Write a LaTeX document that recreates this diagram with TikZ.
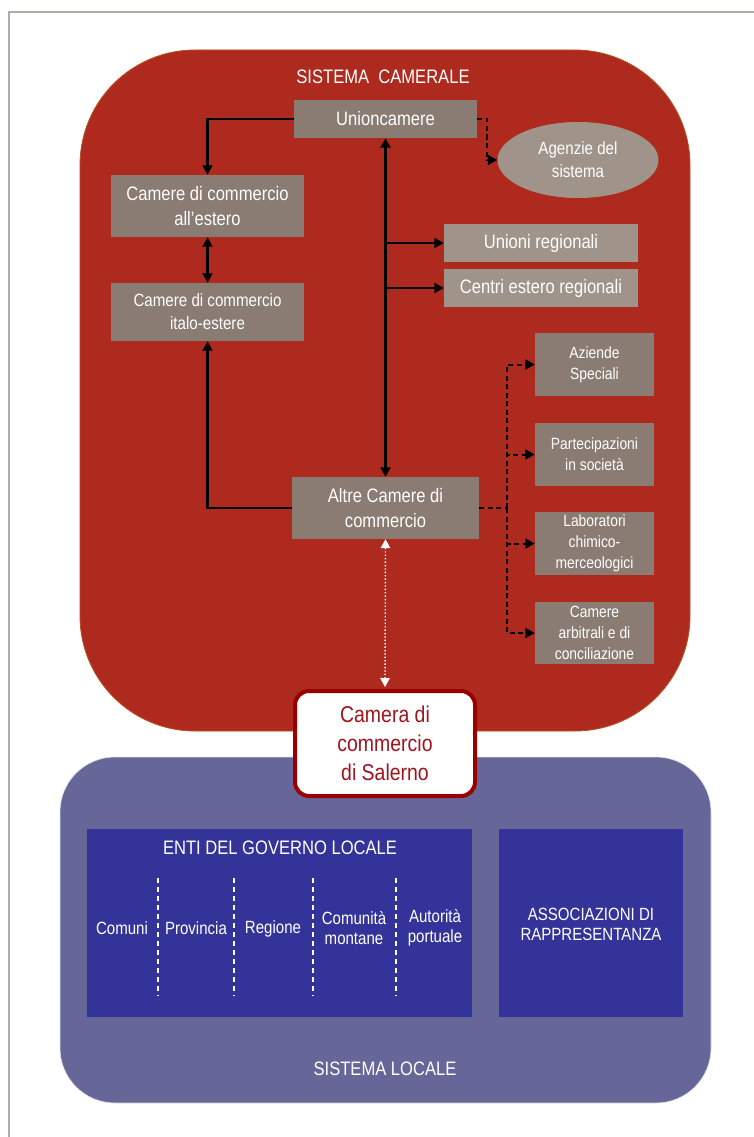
\documentclass[tikz,border=0pt]{standalone}
\usepackage{fontspec}
\setmainfont{Liberation Sans}[FakeStretch=0.85]
\usetikzlibrary{arrows.meta,shapes.geometric,calc}
\definecolor{camred}{HTML}{AF2A1E}
\definecolor{camedge}{HTML}{B8501E}
\definecolor{boxgray}{HTML}{8A7B73}
\definecolor{lightgray}{HTML}{A09389}
\definecolor{outblue}{HTML}{666699}
\definecolor{inblue}{HTML}{333399}
\definecolor{salred}{HTML}{990000}
\definecolor{saltext}{HTML}{A0141E}
\definecolor{framegray}{HTML}{B4ABA4}
\newcommand\fszA{\fontsize{19.5}{25}\selectfont}
\newcommand\fszB{\fontsize{17.8}{23}\selectfont}
\newcommand\fszC{\fontsize{16.3}{21}\selectfont}
\newcommand\fszD{\fontsize{17.7}{20}\selectfont}
\newcommand\fszE{\fontsize{22.9}{29}\selectfont}
\begin{document}
\begin{tikzpicture}[x=1pt,y=-1pt,
  gbox/.style={fill=boxgray, text=white, inner sep=0pt, align=center},
  lbox/.style={fill=lightgray, text=white, inner sep=0pt, align=center},
  wtext/.style={text=white, inner sep=0pt, align=center},
  conn/.style={black, line width=2.1pt},
  mainconn/.style={black, line width=2.8pt},
  dconn/.style={black, line width=2pt, dash pattern=on 5pt off 3.5pt},
  tip/.style={-{Triangle[length=9.5pt,width=10pt]}},
  dtip/.style={{Triangle[length=9.5pt,width=10pt]}-{Triangle[length=9.5pt,width=10pt]}},
  sepline/.style={white, line width=1.3pt, dash pattern=on 5pt off 4pt}
]
\useasboundingbox (0,0) rectangle (754,1137);
\fill[white] (0,0) rectangle (754,1137);
\draw[framegray, line width=1.5pt] (9,1137) -- (9,12) -- (754,12);

% outer regions
\draw[camedge, line width=0.8pt, fill=camred, rounded corners=115pt] (80,50) rectangle (690,731);
\draw[white!80!outblue, line width=0.6pt, fill=outblue, rounded corners=55pt] (60,757) rectangle (711,1103);

% top labels
\node[wtext, font=\fszA] (tsc) at (383,77) {SISTEMA\ \ CAMERALE};

% camerale nodes
\node[gbox, minimum width=183, minimum height=38, font=\fszA] (union) at (385.5,119) {Unioncamere};
\node[ellipse, fill=lightgray, text=white, inner sep=0pt, minimum width=161, minimum height=76, align=center, font=\fszB] (agenzie) at (578,160) {Agenzie del\\sistema};
\node[gbox, minimum width=193, minimum height=62, font=\fszA] (estero) at (207.5,206) {Camere di commercio\\all’estero};
\node[gbox, minimum width=193, minimum height=58, font=\fszB] (italo) at (207.5,312) {Camere di commercio\\italo-estere};
\node[lbox, minimum width=194, minimum height=38, font=\fszA] (unioni) at (541,243) {Unioni regionali};
\node[lbox, minimum width=194, minimum height=38, font=\fszA] (centri) at (541,288) {Centri estero regionali};
\node[gbox, minimum width=119, minimum height=63, font=\fszC] (aziende) at (594.5,364.5) {Aziende\\Speciali};
\node[gbox, minimum width=119, minimum height=63, font=\fszC] (partec) at (594.5,454.5) {Partecipazioni\\in società};
\node[gbox, minimum width=119, minimum height=63, font=\fszC] (labor) at (594.5,543.5) {Laboratori\\chimico-\\merceologici};
\node[gbox, minimum width=119, minimum height=62, font=\fszC] (arbitr) at (594.5,633) {Camere\\arbitrali e di\\conciliazione};
\node[gbox, minimum width=187, minimum height=62, font=\fszA] (altre) at (385.5,508) {Altre Camere di\\commercio};

% connectors
\draw[conn, tip] (union.west) -| (estero.north);
\draw[conn, dtip] (estero.south) -- (italo.north);
\draw[conn, tip] (altre.west) -| (italo.south);
\draw[mainconn, dtip] (union.south) -- (altre.north);
\draw[conn, tip] (union.south |- unioni.west) -- (unioni.west);
\draw[conn, tip] (union.south |- centri.west) -- (centri.west);
\draw[dconn, tip] (union.east) -- ++(10,0) |- (agenzie.west);
\coordinate (trunk) at (507,508);
\draw[dconn] (altre.east) -- (trunk);
\draw[dconn, tip] (trunk) |- (aziende.west);
\draw[dconn, tip] (trunk) |- (partec.west);
\draw[dconn, tip] (trunk) |- (labor.west);
\draw[dconn, tip] (trunk) |- (arbitr.west);

% Salerno
\node[draw=salred, line width=4pt, fill=white, rounded corners=14pt, minimum width=180, minimum height=105, inner sep=0pt, text=saltext, align=center, font=\fszE] (salerno) at (385,743.5) {Camera di\\commercio\\di Salerno};
\draw[white, line width=1.4pt, dotted, {Triangle[white,length=9pt,width=9.5pt]}-{Triangle[white,length=9pt,width=9.5pt]}] (altre.south) -- ($(salerno.north)+(0,-2)$);

% local system
\node[fill=inblue, minimum width=385, minimum height=188, inner sep=0pt] (enti) at (279.5,923) {};
\node[fill=inblue, minimum width=184, minimum height=188, inner sep=0pt] (assoc) at (591,923) {};
\node[wtext, font=\fszA] (entit) at (280,848) {ENTI DEL GOVERNO LOCALE};
\draw[sepline] (158,878) -- (158,996);
\draw[sepline] (234,878) -- (234,996);
\draw[sepline] (313,878) -- (313,996);
\draw[sepline] (396,878) -- (396,996);
\node[wtext, font=\fszD] (comuni) at (122,928) {Comuni};
\node[wtext, font=\fszD] (prov) at (196,928) {Provincia};
\node[wtext, font=\fszD] (regione) at (273,929) {Regione};
\node[wtext, font=\fszD] (comun) at (354,928) {Comunità\\montane};
\node[wtext, font=\fszD] (autor) at (435,928) {Autorità\\portuale};
\node[wtext, font=\fszD] (assoct) at (591,924) {ASSOCIAZIONI DI\\RAPPRESENTANZA};
\node[wtext, font=\fszA] (tsl) at (385,1069) {SISTEMA LOCALE};
\end{tikzpicture}
\end{document}
